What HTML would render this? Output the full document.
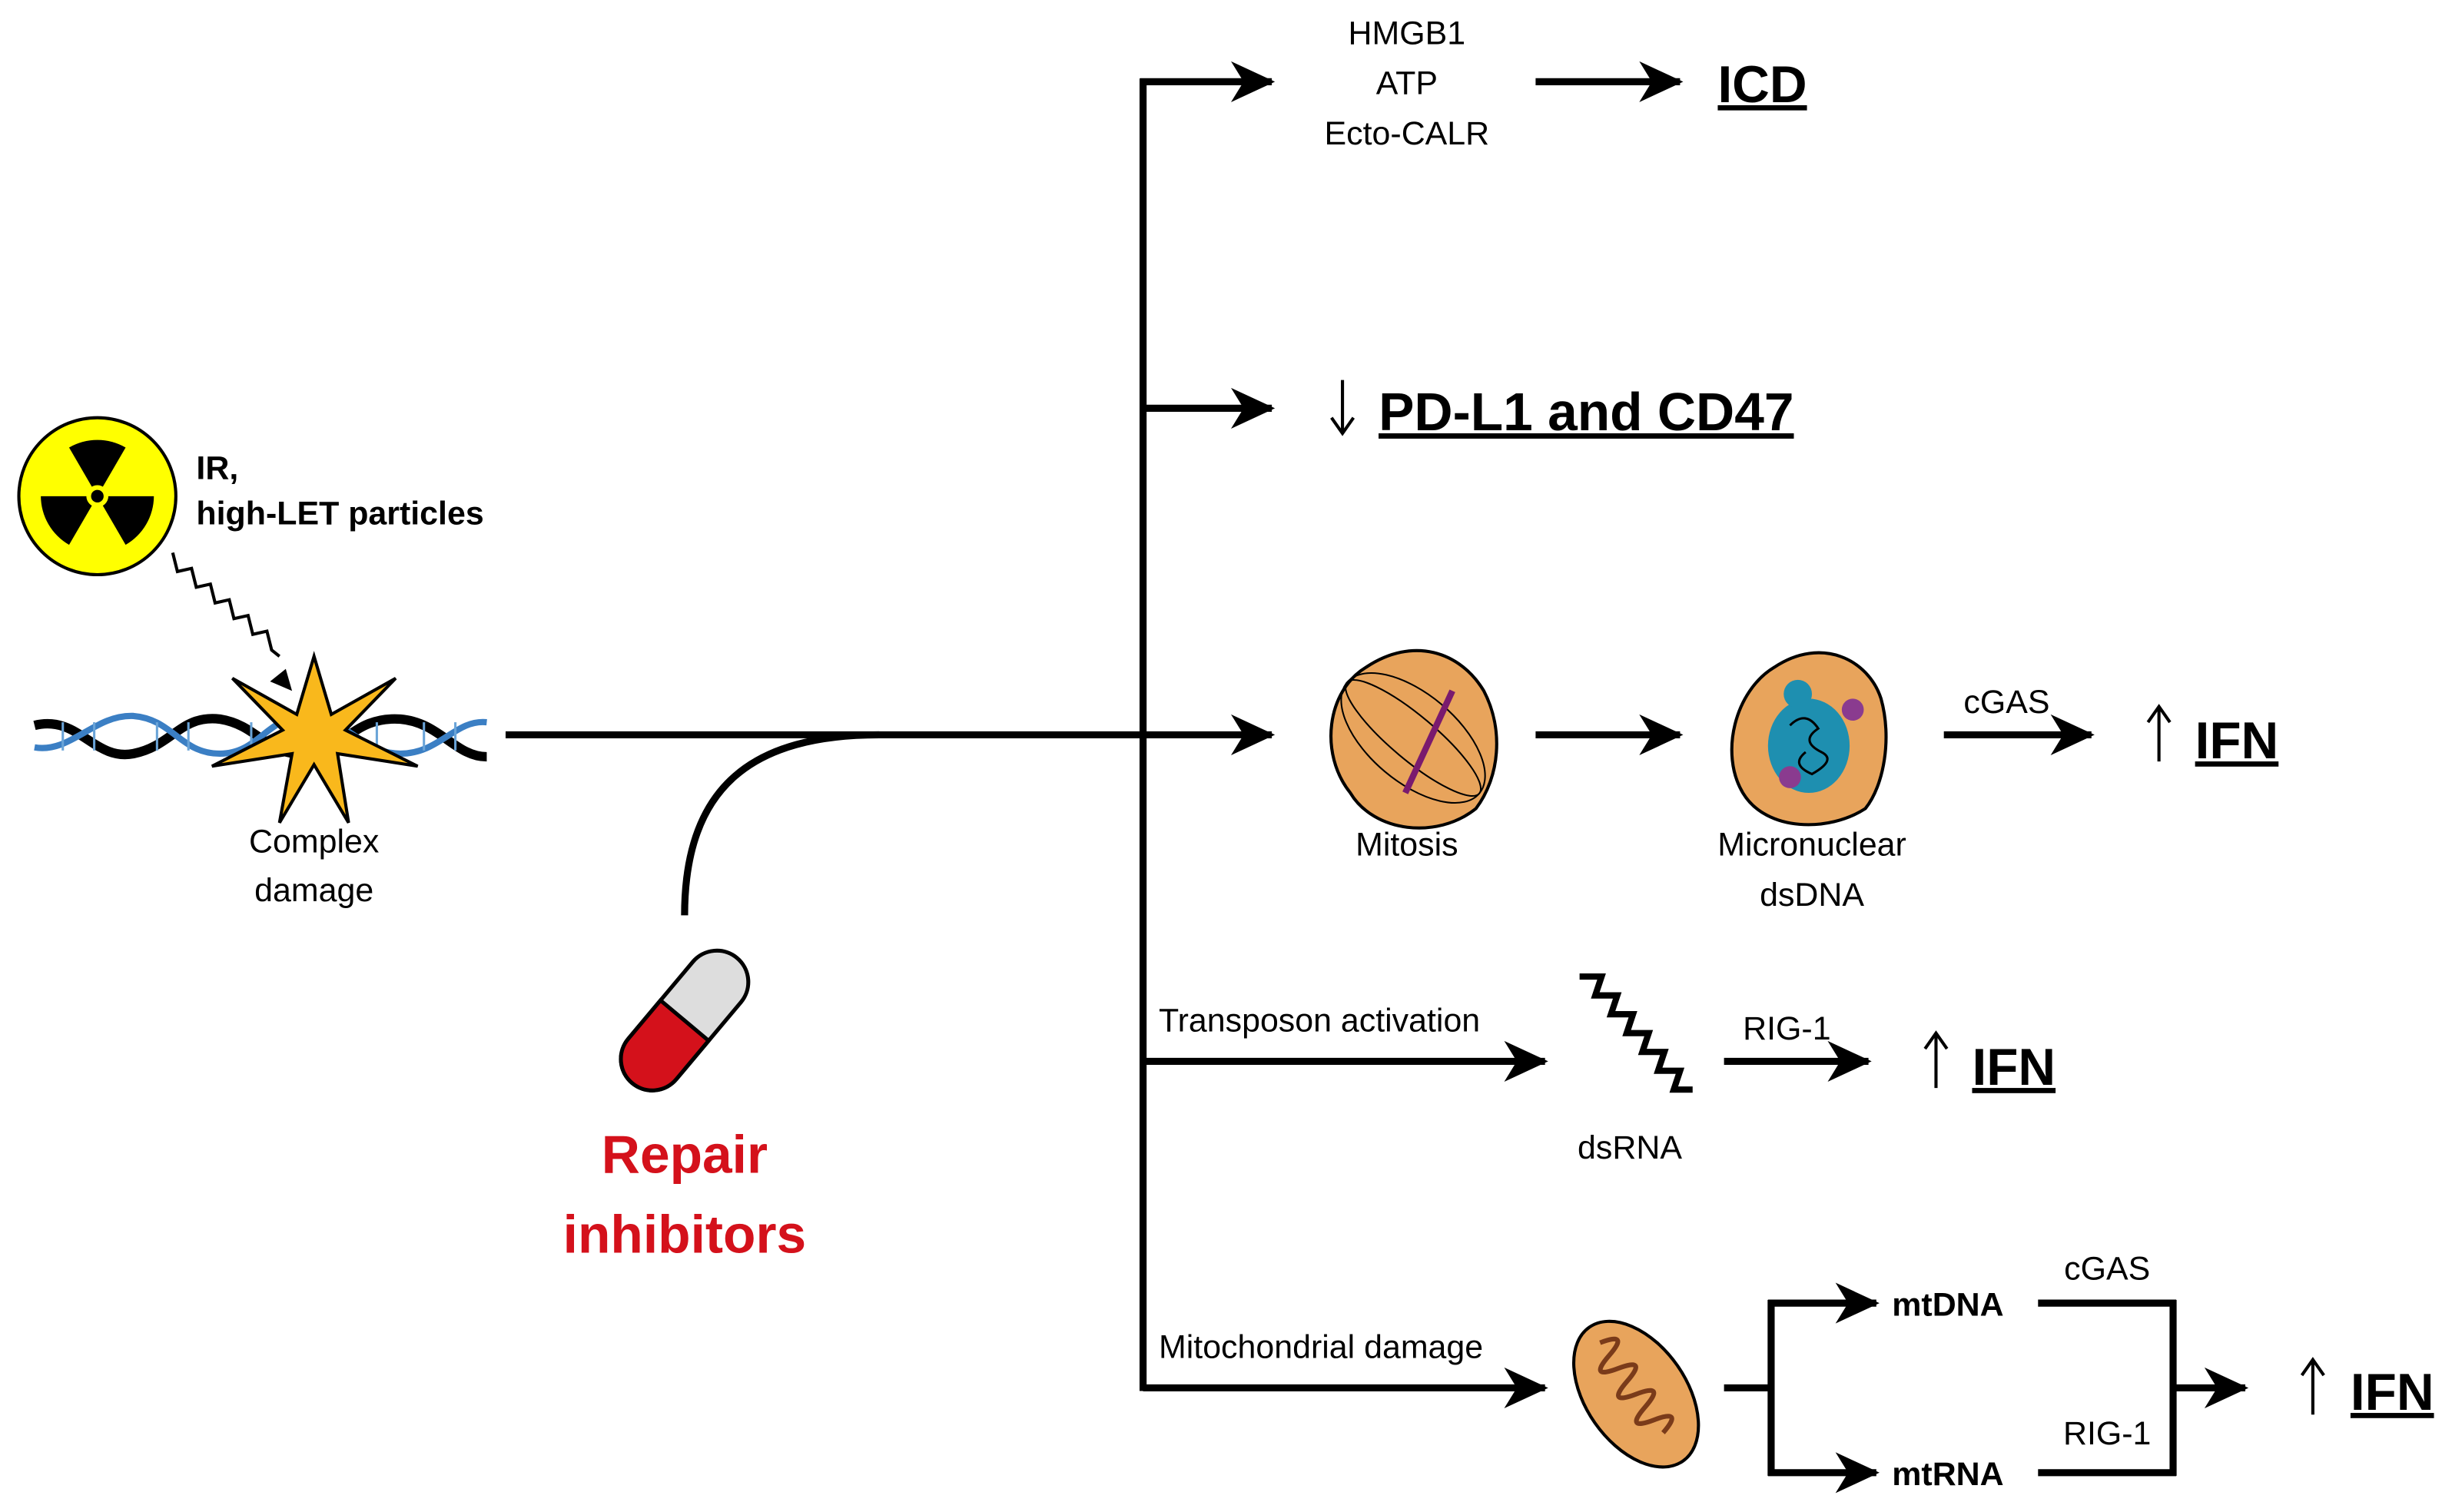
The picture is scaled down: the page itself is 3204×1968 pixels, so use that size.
<!DOCTYPE html>
<html><head><meta charset="utf-8"><style>
html,body{margin:0;padding:0;background:#fff}
svg{display:block}
text{font-family:"Liberation Sans",sans-serif;fill:#000}
.n{font-size:21px}
.b{font-weight:bold}
.big{font-size:33px;font-weight:bold;text-decoration:underline}
</style></head><body>
<svg width="3204" height="1968" viewBox="0 0 1568 963" xmlns="http://www.w3.org/2000/svg">
<defs>
<marker id="ah" markerWidth="30" markerHeight="30" refX="26" refY="13" orient="auto" markerUnits="userSpaceOnUse">
<path d="M0,0 L28,13 L0,26 L8,13 Z" fill="#000"/>
</marker>
</defs>
<g stroke="#000" stroke-width="4.5" fill="none">
<line x1="728" y1="50" x2="728" y2="886"/>
<line x1="726" y1="52" x2="810" y2="52" marker-end="url(#ah)"/>
<line x1="728" y1="260" x2="810" y2="260" marker-end="url(#ah)"/>
<line x1="322" y1="468" x2="810" y2="468" marker-end="url(#ah)"/>
<line x1="728" y1="676" x2="984" y2="676" marker-end="url(#ah)"/>
<line x1="728" y1="884" x2="984" y2="884" marker-end="url(#ah)"/>
<path d="M436,583 C436,500 480,468 560,468"/>
<line x1="978" y1="52" x2="1070" y2="52" marker-end="url(#ah)"/>
<line x1="978" y1="468" x2="1070" y2="468" marker-end="url(#ah)"/>
<line x1="1238" y1="468" x2="1332" y2="468" marker-end="url(#ah)"/>
<line x1="1098" y1="676" x2="1190" y2="676" marker-end="url(#ah)"/>
<line x1="1098" y1="884" x2="1128" y2="884"/>
<line x1="1128" y1="828" x2="1128" y2="940"/>
<line x1="1126" y1="830" x2="1195" y2="830" marker-end="url(#ah)"/>
<line x1="1126" y1="938" x2="1195" y2="938" marker-end="url(#ah)"/>
<line x1="1298" y1="830" x2="1386" y2="830"/>
<line x1="1298" y1="938" x2="1386" y2="938"/>
<line x1="1384" y1="828" x2="1384" y2="940"/>
<line x1="1384" y1="884" x2="1430" y2="884" marker-end="url(#ah)"/>
</g>
<!-- thin up/down arrows -->
<g stroke="#000" stroke-width="2" fill="none">
<path d="M855,242 L855,276 M848,266 L855,276 L862,266"/>
<path d="M1375,485 L1375,450 M1368,460 L1375,450 L1382,460"/>
<path d="M1233,693 L1233,658 M1226,668 L1233,658 L1240,668"/>
<path d="M1473,901 L1473,866 M1466,876 L1473,866 L1480,876"/>
</g>
<!-- radiation -->
<circle cx="62" cy="316" r="50" fill="#ffff00" stroke="#000" stroke-width="2"/>
<g fill="#000">
<path d="M62,316 L44,285 A36,36 0 0 1 80,285 Z"/>
<path d="M62,316 L98,316 A36,36 0 0 1 80,347 Z"/>
<path d="M62,316 L44,347 A36,36 0 0 1 26,316 Z"/>
</g>
<circle cx="62" cy="316" r="7" fill="#ffff00"/>
<circle cx="62" cy="316" r="4" fill="#000"/>
<text x="125" y="305" class="n b">IR,</text>
<text x="125" y="334" class="n b">high-LET particles</text>
<path d="M110,352 l3,12 l9,-2 l3,12 l9,-2 l3,12 l9,-2 l3,12 l9,-2 l3,12 l9,-2 l3,12 l5,4" stroke="#000" stroke-width="2" fill="none"/>
<path d="M186,440 l-4,-14 l-10,8 z" fill="#000"/>
<!-- DNA -->
<g fill="none" stroke-width="6">
<path d="M22,462 C50,455 60,485 85,480 C110,475 115,455 140,458 C165,462 170,482 195,480 C220,478 225,456 255,458 C280,460 290,482 310,482" stroke="#000"/>
<path d="M22,476 C45,480 60,455 85,456 C110,458 115,480 140,480 C165,480 170,456 195,456 C220,456 230,480 255,480 C280,480 290,458 310,460" stroke="#3b7fc4" stroke-width="4"/>
</g>
<g stroke="#6aa4d8" stroke-width="1.5">
<line x1="40" y1="460" x2="40" y2="478"/><line x1="60" y1="460" x2="60" y2="478"/><line x1="100" y1="460" x2="100" y2="478"/><line x1="120" y1="460" x2="120" y2="478"/><line x1="160" y1="460" x2="160" y2="478"/><line x1="240" y1="460" x2="240" y2="478"/><line x1="270" y1="460" x2="270" y2="478"/><line x1="290" y1="460" x2="290" y2="478"/>
</g>
<polygon points="200,418 211,455 252,432 220,465 266,488 215,480 222,524 200,487 178,524 186,480 135,488 180,465 148,432 189,455" fill="#f9b81c" stroke="#000" stroke-width="2"/>
<text x="200" y="543" class="n" text-anchor="middle">Complex</text>
<text x="200" y="574" class="n" text-anchor="middle">damage</text>
<!-- pill -->
<g transform="translate(436,650) rotate(-50)">
<rect x="-52" y="-20" width="104" height="40" rx="20" fill="#ddd" stroke="#000" stroke-width="2.5"/>
<path d="M0,-20 L-32,-20 A20,20 0 0 0 -32,20 L0,20 Z" fill="#d4111b" stroke="#000" stroke-width="2.5"/>
</g>
<text x="436" y="747" text-anchor="middle" style="font-size:34px;font-weight:bold;fill:#d4111b">Repair</text>
<text x="436" y="798" text-anchor="middle" style="font-size:34px;font-weight:bold;fill:#d4111b">inhibitors</text>
<!-- top -->
<text x="896" y="28" class="n" text-anchor="middle">HMGB1</text>
<text x="896" y="60" class="n" text-anchor="middle">ATP</text>
<text x="896" y="92" class="n" text-anchor="middle">Ecto-CALR</text>
<text x="1094" y="65" class="big">ICD</text>
<text x="878" y="274" class="big" style="font-size:34px">PD-L1 and CD47</text>
<!-- mitosis -->
<path d="M870,425 C900,405 930,415 945,440 C958,465 955,495 940,515 C915,535 875,530 860,505 C840,480 845,440 870,425Z" fill="#e8a45c" stroke="#000" stroke-width="2"/>
<g stroke="#000" stroke-width="1" fill="none">
<ellipse cx="900" cy="470" rx="55" ry="28" transform="rotate(40 900 470)"/>
<ellipse cx="900" cy="470" rx="55" ry="14" transform="rotate(40 900 470)"/>
</g>
<path d="M925,440 L895,505" stroke="#7a1a6e" stroke-width="4"/>
<text x="896" y="545" class="n" text-anchor="middle">Mitosis</text>
<!-- micronuclear -->
<path d="M1130,425 C1160,405 1190,420 1198,445 C1205,470 1200,500 1188,515 C1165,530 1125,530 1110,505 C1095,480 1105,440 1130,425Z" fill="#e8a45c" stroke="#000" stroke-width="2"/>
<ellipse cx="1152" cy="475" rx="26" ry="30" fill="#1e8fb0"/>
<circle cx="1145" cy="442" r="9" fill="#1e8fb0"/>
<circle cx="1180" cy="452" r="7" fill="#8a3b8f"/>
<circle cx="1140" cy="495" r="7" fill="#8a3b8f"/>
<path d="M1140,462 q10,-10 18,2 q-12,8 2,15 q10,5 -6,14 q-14,-6 -4,-14" stroke="#000" stroke-width="1.5" fill="none"/>
<text x="1154" y="545" class="n" text-anchor="middle">Micronuclear</text>
<text x="1154" y="577" class="n" text-anchor="middle">dsDNA</text>
<text x="1278" y="454" class="n" text-anchor="middle">cGAS</text>
<text x="1398" y="483" class="big">IFN</text>
<!-- transposon -->
<text x="738" y="657" class="n">Transposon activation</text>
<path d="M1006,622 l14,0 l-4,12 l14,0 l-4,12 l14,0 l-4,12 l14,0 l-4,12 l14,0 l-4,12 l14,0 l-4,12 l12,0" stroke="#000" stroke-width="4" fill="none"/>
<text x="1038" y="738" class="n" text-anchor="middle">dsRNA</text>
<text x="1138" y="662" class="n" text-anchor="middle">RIG-1</text>
<text x="1256" y="691" class="big">IFN</text>
<!-- mito -->
<text x="738" y="865" class="n">Mitochondrial damage</text>
<g transform="translate(1042,888) rotate(55)">
<ellipse cx="0" cy="0" rx="52" ry="32" fill="#e8a45c" stroke="#000" stroke-width="2"/>
<path d="M-40,0 q5,-20 10,0 q5,20 10,0 q5,-20 10,0 q5,20 10,0 q5,-20 10,0 q5,20 10,0 q5,-20 10,0" stroke="#7a3b1a" stroke-width="3" fill="none"/>
</g>
<text x="1205" y="838" class="n b">mtDNA</text>
<text x="1205" y="946" class="n b">mtRNA</text>
<text x="1342" y="815" class="n" text-anchor="middle">cGAS</text>
<text x="1342" y="920" class="n" text-anchor="middle">RIG-1</text>
<text x="1497" y="898" class="big">IFN</text>
</svg>
</body></html>
